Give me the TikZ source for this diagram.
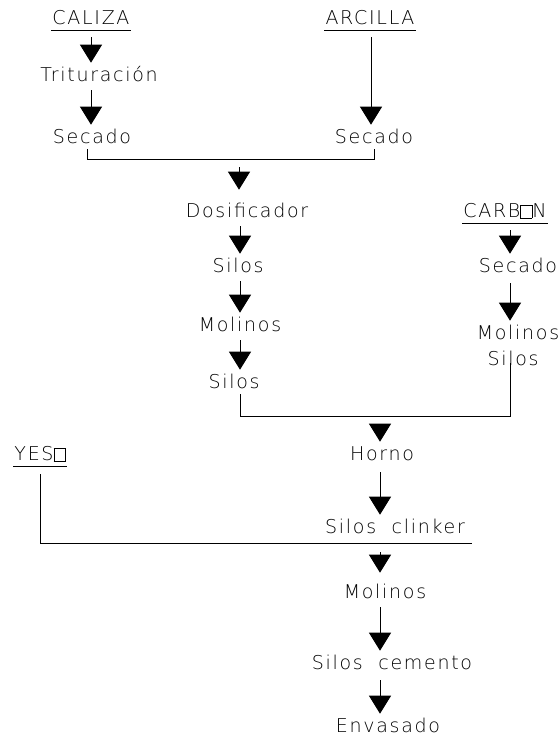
\documentclass[tikz,border=0pt]{standalone}
\usepackage{fontspec}
\IfFontExistsTF{DejaVu Sans ExtraLight}
  {\setmainfont{DejaVu Sans ExtraLight}[LetterSpace=9,WordSpace=2]}
  {\setmainfont{DejaVu Sans}[LetterSpace=9,WordSpace=2]}
\usetikzlibrary{arrows.meta,calc}

\newcommand\cajaO{{\setlength\fboxsep{0pt}\setlength\fboxrule{0.6pt}\fbox{\rule{0pt}{12.4pt}\hspace{10.8pt}}}}

\tikzset{
  paso/.style={text height=13.8pt, text depth=0pt, inner sep=5.2pt, font=\fontsize{19}{19}\selectfont},
  materia/.style={paso, inner xsep=1pt},
  linea/.style={line width=0.9pt},
  flecha/.style={linea, -{Triangle[length=18pt,width=22pt]}, shorten <=3pt}
}

\begin{document}
\begin{tikzpicture}[x=1pt,y=-1pt]
        \useasboundingbox (0,0) rectangle (558,737);
        % ejes de las columnas
        \coordinate (eje1) at (91,0);
        \coordinate (eje2) at (371,0);
        \coordinate (eje3) at (240,0);
        \coordinate (eje4) at (510,0);
        \coordinate (eje5) at (380,0);

        % Materias primas
        \node[materia] (caliza) at (91,18) {CALIZA};
        \node[materia] (arcilla) at (370,18) {ARCILLA};
        \node[materia] (carbon) at (505,211) {CARB\cajaO N};
        \node[materia] (yeso) at (40,454) {YES\cajaO};
        \foreach \m in {caliza,arcilla,carbon,yeso}
            \draw[linea] (\m.south west) -- (\m.south east);

        % Pasos
        \node[paso] (trit) at (99,75) {Trituración};
        \node[paso] (sec1) at (92,137) {Secado};
        \node[paso] (sec2) at (374,137) {Secado};
        \node[paso] (dosif) at (247,211) {Dosificador};
        \node[paso] (sil1) at (238,266) {Silos};
        \node[paso] (mol1) at (240,325) {Molinos};
        \node[paso] (sil2) at (234,382) {Silos};
        \node[paso] (sec3) at (518,266) {Secado};
        \node[paso] (mol2) at (518,333) {Molinos};
        \node[paso] (sil3) at (513,359) {Silos};
        \node[paso] (horno) at (382,454) {Horno};
        \node[paso] (clinker) at (395,527) {Silos clinker};
        \node[paso] (mol3) at (385,592) {Molinos};
        \node[paso] (cemento) at (392,663) {Silos cemento};
        \node[paso] (envas) at (388,726) {Envasado};

        % Caliza y arcilla
        \draw[flecha, shorten <=7pt] (caliza.south -| eje1) -- (trit.north -| eje1);
        \draw[flecha] (trit.south -| eje1) -- (sec1.north -| eje1);
        \draw[flecha, shorten <=7pt] (arcilla.south -| eje2) -- (sec2.north -| eje2);
        \draw[linea] ([xshift=-5pt]sec1.south) -- ++(0,10) -| (sec2.south);
        \coordinate (m1) at (239,164);
        \draw[flecha, shorten >=9pt] (m1) -- (dosif.north -| m1);
        \draw[flecha] (dosif.south -| eje3) -- (sil1.north -| eje3);
        \draw[flecha] (sil1.south -| eje3) -- (mol1.north -| eje3);
        \draw[flecha] (mol1.south -| eje3) -- (sil2.north -| eje3);

        % Carbon
        \draw[flecha, shorten <=7pt] (carbon.south -| eje4) -- (sec3.north -| eje4);
        \draw[flecha, shorten <=5pt] (sec3.south -| eje4) -- (mol2.north -| eje4);
        \draw[linea] (sil2.south -| eje3) -- ++(0,22) -| ([yshift=8pt]sil3.south -| eje4);

        % Horno
        \coordinate (m2) at (380,421);
        \draw[flecha] (m2) -- (horno.north -| m2);
        \draw[flecha, shorten <=6pt] (horno.south -| eje5) -- (clinker.north -| eje5);

        % Yeso
        \coordinate (m3) at (472,543);
        \draw[linea] (yeso.south) ++(0,8) |- (m3);
        \coordinate (m4) at (380,549);
        \draw[flecha, shorten >=7pt] (m4) -- (mol3.north -| m4);
        \draw[flecha] (mol3.south -| eje5) -- (cemento.north -| eje5);
        \draw[flecha, shorten <=5pt] (cemento.south -| eje5) -- (envas.north -| eje5);
    \end{tikzpicture}
\end{document}
